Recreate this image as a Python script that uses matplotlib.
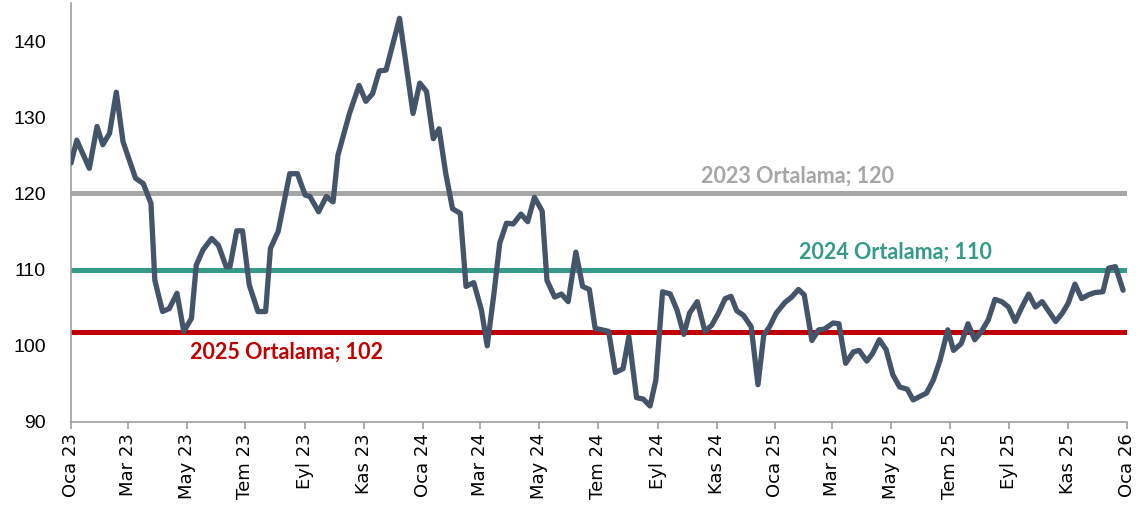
import pandas as pd
import numpy as np
import matplotlib
matplotlib.use('Agg')
import matplotlib.pyplot as plt
import matplotlib.dates as mdates

# Haftalik seri (grafikten okunan kirilma noktalari)
tarihler = [
    '2023-01-01', '2023-01-07', '2023-01-20', '2023-01-28', '2023-02-03', '2023-02-10',
    '2023-02-17', '2023-02-24', '2023-03-09', '2023-03-17', '2023-03-25', '2023-03-29',
    '2023-04-06', '2023-04-13', '2023-04-21', '2023-04-28', '2023-05-06', '2023-05-11',
    '2023-05-18', '2023-05-27', '2023-06-03', '2023-06-11', '2023-06-15', '2023-06-22',
    '2023-06-28', '2023-07-05', '2023-07-14', '2023-07-22', '2023-07-27', '2023-08-04',
    '2023-08-16', '2023-08-24', '2023-09-01', '2023-09-06', '2023-09-15', '2023-09-23',
    '2023-09-30', '2023-10-05', '2023-10-17', '2023-10-27', '2023-11-03', '2023-11-10',
    '2023-11-17', '2023-11-24', '2023-12-08', '2023-12-22', '2023-12-29', '2024-01-05',
    '2024-01-12', '2024-01-18', '2024-01-25', '2024-02-01', '2024-02-09', '2024-02-15',
    '2024-02-23', '2024-03-02', '2024-03-08', '2024-03-15', '2024-03-21', '2024-03-28',
    '2024-04-04', '2024-04-12', '2024-04-19', '2024-04-26', '2024-05-04', '2024-05-09',
    '2024-05-17', '2024-05-24', '2024-05-31', '2024-06-08', '2024-06-15', '2024-06-22',
    '2024-06-28', '2024-07-12', '2024-07-19', '2024-07-27', '2024-08-02', '2024-08-10',
    '2024-08-17', '2024-08-24', '2024-08-30', '2024-09-06', '2024-09-14', '2024-09-21',
    '2024-09-28', '2024-10-04', '2024-10-12', '2024-10-20', '2024-10-27', '2024-11-03',
    '2024-11-10', '2024-11-16', '2024-11-22', '2024-11-29', '2024-12-07', '2024-12-14',
    '2024-12-20', '2024-12-26', '2025-01-02', '2025-01-11', '2025-01-18', '2025-01-25',
    '2025-01-31', '2025-02-08', '2025-02-15', '2025-02-21', '2025-03-02', '2025-03-08',
    '2025-03-15', '2025-03-23', '2025-03-29', '2025-04-06', '2025-04-12', '2025-04-19',
    '2025-04-26', '2025-05-03', '2025-05-10', '2025-05-18', '2025-05-24', '2025-06-07',
    '2025-06-14', '2025-06-21', '2025-06-29', '2025-07-05', '2025-07-13', '2025-07-20',
    '2025-07-27', '2025-08-03', '2025-08-10', '2025-08-17', '2025-08-24', '2025-08-31',
    '2025-09-07', '2025-09-14', '2025-09-21', '2025-09-28', '2025-10-05', '2025-10-12',
    '2025-10-19', '2025-10-26', '2025-11-01', '2025-11-08', '2025-11-15', '2025-11-22',
    '2025-11-29', '2025-12-07', '2025-12-13', '2025-12-20', '2025-12-28',
]
degerler = [
    124.0, 127.0, 123.3, 128.8, 126.4, 127.9,
    133.3, 126.8, 122.0, 121.3, 118.7, 108.6,
    104.5, 104.9, 106.9, 101.9, 103.6, 110.6,
    112.6, 114.1, 113.2, 110.4, 110.4, 115.1,
    115.1, 108.0, 104.5, 104.5, 112.8, 115.0,
    122.6, 122.6, 119.8, 119.6, 117.6, 119.6,
    118.9, 125.0, 130.5, 134.2, 132.1, 133.1,
    136.1, 136.2, 143.0, 130.5, 134.5, 133.4,
    127.2, 128.5, 122.6, 118.0, 117.4, 107.8,
    108.3, 104.7, 100.0, 106.9, 113.5, 116.1,
    116.0, 117.3, 116.3, 119.5, 117.7, 108.6,
    106.4, 106.8, 105.8, 112.3, 107.8, 107.4,
    102.3, 101.9, 96.5, 97.0, 101.2, 93.2,
    93.0, 92.1, 95.5, 107.1, 106.8, 104.7,
    101.5, 104.3, 105.8, 101.9, 102.7, 104.3,
    106.2, 106.5, 104.6, 104.0, 102.5, 94.9,
    101.4, 102.5, 104.3, 105.7, 106.4, 107.4,
    106.7, 100.7, 102.1, 102.2, 103.0, 102.9,
    97.7, 99.2, 99.4, 98.0, 99.0, 100.8,
    99.5, 96.2, 94.6, 94.3, 92.9, 93.8,
    95.5, 98.1, 102.1, 99.4, 100.3, 102.9,
    100.8, 101.9, 103.4, 106.1, 105.8, 105.1,
    103.2, 105.1, 106.8, 105.1, 105.8, 104.5,
    103.2, 104.3, 105.6, 108.1, 106.2, 106.7,
    107.0, 107.1, 110.2, 110.4, 107.3,
]

# Yillik ortalamalar
ortalama_etiketleri = ['2023 Ortalama; 120', '2024 Ortalama; 110', '2025 Ortalama; 102']
ortalama_degerleri = [120.0, 110.0, 101.8]
ortalama_renkleri = ['#A6A6A6', '#359A87', '#C00000']

ay_adlari = {1: 'Oca', 3: 'Mar', 5: 'May', 7: 'Tem', 9: 'Eyl', 11: 'Kas'}

seri = pd.Series(degerler, index=pd.to_datetime(tarihler))
baslangic = pd.Timestamp('2023-01-01')
bitis = pd.Timestamp('2026-01-01')

fig = plt.figure(figsize=(11.38, 5.15), dpi=100)
ax = fig.add_axes([0.0624, 0.1806, 0.9279, 0.8134])

# Ortalama cizgileri
for deger, renk in zip(ortalama_degerleri, ortalama_renkleri):
    ax.plot([baslangic, bitis], [deger, deger], color=renk, linewidth=3.6,
            solid_capstyle='round', zorder=2)

ax.plot(seri.index, seri.values, color='#44546A', linewidth=3.8,
        solid_joinstyle='round', solid_capstyle='round', zorder=3)

# Ortalama etiketleri
etiket_font = dict(fontsize=15.5, fontweight='bold', family=['Lato', 'DejaVu Sans'])
ax.text(pd.Timestamp('2025-01-24'), 120.9, ortalama_etiketleri[0],
        color=ortalama_renkleri[0], ha='center', va='bottom', **etiket_font)
ax.text(pd.Timestamp('2025-05-06'), 110.9, ortalama_etiketleri[1],
        color=ortalama_renkleri[1], ha='center', va='bottom', **etiket_font)
ax.text(pd.Timestamp('2023-08-13'), 100.5, ortalama_etiketleri[2],
        color=ortalama_renkleri[2], ha='center', va='top', **etiket_font)

ax.set_xlim(baslangic, bitis)
ax.set_ylim(90, 145)
ax.set_yticks(np.arange(90, 141, 10))

tick_tarihleri = pd.date_range('2023-01-01', '2026-01-01', freq='2MS')
ax.set_xticks(tick_tarihleri)
ax.set_xticklabels([f"{ay_adlari[t.month]} {t.strftime('%y')}" for t in tick_tarihleri],
                   rotation=90, fontsize=13, family=['DejaVu Sans'])
for lbl in ax.get_yticklabels():
    lbl.set_family(['Liberation Sans Narrow', 'Liberation Sans', 'DejaVu Sans'])
    lbl.set_fontsize(14)

for kenar in ['top', 'right']:
    ax.spines[kenar].set_visible(False)
for kenar in ['left', 'bottom']:
    ax.spines[kenar].set_color('#9E9E9E')
    ax.spines[kenar].set_linewidth(1.2)

ax.tick_params(axis='x', direction='out', length=5, width=1.2, color='#9E9E9E', pad=3)
ax.tick_params(axis='y', length=0, pad=18)

fig.savefig('out.png', dpi=100)
